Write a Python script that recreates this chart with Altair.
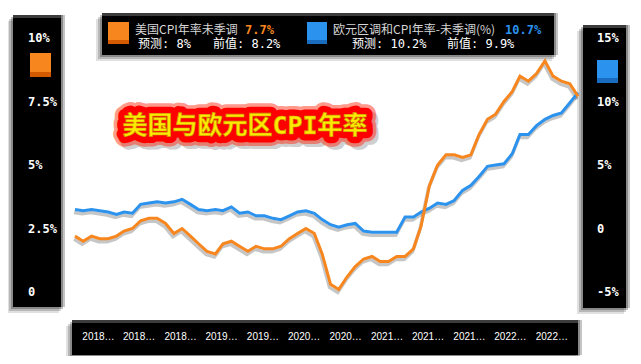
import altair as alt
import pandas as pd

# ---------------- data ----------------
months = pd.date_range("2017-09-01", periods=62, freq="MS").strftime("%Y-%m-%d").tolist()

us_cpi = [2.2, 2.0, 2.2, 2.1,
          2.1, 2.2, 2.4, 2.5, 2.8, 2.9, 2.9, 2.7, 2.3, 2.5, 2.2, 1.9,
          1.6, 1.5, 1.9, 2.0, 1.8, 1.6, 1.8, 1.7, 1.7, 1.8, 2.1, 2.3,
          2.5, 2.3, 1.5, 0.3, 0.1, 0.6, 1.0, 1.3, 1.4, 1.2, 1.2, 1.4,
          1.4, 1.7, 2.6, 4.2, 5.0, 5.4, 5.4, 5.3, 5.4, 6.2, 6.8, 7.0,
          7.5, 7.9, 8.5, 8.3, 8.6, 9.1, 8.5, 8.3, 8.2, 7.7]

ez_hicp = [1.5, 1.4, 1.5, 1.4,
           1.3, 1.1, 1.3, 1.2, 1.9, 2.0, 2.1, 2.0, 2.1, 2.3, 1.9, 1.5,
           1.4, 1.5, 1.4, 1.7, 1.2, 1.3, 1.0, 1.0, 0.8, 0.7, 1.0, 1.3,
           1.4, 1.2, 0.7, 0.3, 0.1, 0.3, 0.4, -0.2, -0.3, -0.3, -0.3, -0.3,
           0.9, 0.9, 1.3, 1.6, 2.0, 1.9, 2.2, 3.0, 3.4, 4.1, 4.9, 5.0,
           5.1, 5.9, 7.4, 7.4, 8.1, 8.6, 8.9, 9.1, 9.9, 10.7]

title_text = "美国与欧元区CPI年率"
us_name = "美国CPI年率未季调"
us_latest = "7.7%"
us_forecast = "预测: 8%"
us_previous = "前值: 8.2%"
ez_name = "欧元区调和CPI年率-未季调(%)"
ez_latest = "10.7%"
ez_forecast = "预测: 10.2%"
ez_previous = "前值: 9.9%"

left_ticks = [0, 2.5, 5, 7.5, 10]
left_tick_labels = ["0", "2.5%", "5%", "7.5%", "10%"]
right_ticks = [-5, 0, 5, 10, 15]
right_tick_labels = ["-5%", "0", "5%", "10%", "15%"]
x_tick_months = ["2018-02-01", "2018-07-01", "2018-12-01", "2019-05-01", "2019-10-01",
                 "2020-03-01", "2020-08-01", "2021-01-01", "2021-06-01", "2021-11-01",
                 "2022-04-01", "2022-09-01"]
x_tick_labels = ["2018…", "2018…", "2018…", "2019…", "2019…", "2020…", "2020…",
                 "2021…", "2021…", "2021…", "2022…", "2022…"]

# ---------------- styling ----------------
ORANGE = "#f7861e"
ORANGE_D = "#d45a00"
BLUE = "#2b92ee"
BLUE_D = "#1a6cbf"
MONO = "DejaVu Sans Mono, Noto Sans CJK SC"
CJK = "Noto Sans CJK SC"

us_df = pd.DataFrame({"month": months, "value": us_cpi})
ez_df = pd.DataFrame({"month": months, "value": ez_hicp})
left_df = pd.DataFrame({"v": left_ticks, "label": left_tick_labels})
right_df = pd.DataFrame({"v": right_ticks, "label": right_tick_labels})
xt_df = pd.DataFrame({"month": x_tick_months, "label": x_tick_labels})
dummy = pd.DataFrame({"d": [0]})

X_DOM = [alt.DateTime(year=2017, month=9, date=1, utc=True),
         alt.DateTime(year=2022, month=10, date=1, utc=True)]


def xs(dx=0):
    return alt.Scale(type="utc", domain=X_DOM, range=[67 + dx, 570 + dx], nice=False)


def us_y(dy=0):
    return alt.Scale(domain=[0, 10], range=[284 + dy, 30 + dy], nice=False, zero=False)


def ez_y(dy=0):
    return alt.Scale(domain=[-5, 15], range=[284 + dy, 30 + dy], nice=False, zero=False)


def rect(x0, y0, x1, y1, color, opacity=1.0):
    return alt.Chart(dummy).mark_rect(color=color, opacity=opacity).encode(
        x=alt.value(x0), x2=alt.value(x1), y=alt.value(y0), y2=alt.value(y1))


def box(x0, y0, x1, y1):
    return [
        rect(x0 - 6, y0 + 6, x1 - 6, y1 + 6, "#000000", 0.12),
        rect(x0 - 4, y0 + 4, x1 - 4, y1 + 4, "#000000", 0.18),
        rect(x0 - 2, y0 + 2, x1 - 2, y1 + 2, "#000000", 0.25),
        rect(x0, y0, x1, y1, "#000000"),
        rect(x0, y0, x1, y0 + 3, "#3c3c3c"),
        rect(x1 - 4, y0, x1 - 2, y1, "#8a8a8a"),
        rect(x1 - 2, y0, x1, y1, "#c4c4c4"),
    ]


def label(txt, x, y, font, size, color, weight="normal", align="left"):
    return alt.Chart(dummy).mark_text(
        font=font, fontSize=size, fontWeight=weight, color=color,
        align=align, baseline="middle").encode(
        x=alt.value(x), y=alt.value(y), text=alt.value(txt))


layers = []
# boxes
layers += box(5, 7, 57, 299)       # left axis
layers += box(575, 17, 622, 300)   # right axis
layers += box(94, 5, 550, 47)      # legend
layers += box(64, 312, 574, 347)   # x axis

# line shadows (same data, scales shifted a few pixels)
for df, ysc in ((ez_df, ez_y(3)), (us_df, us_y(3))):
    layers.append(alt.Chart(df).mark_line(color="#333333", opacity=0.28, strokeWidth=3.5).encode(
        x=alt.X("month:T", scale=xs(-1), axis=None),
        y=alt.Y("value:Q", scale=ysc, axis=None)))

# lines
layers.append(alt.Chart(ez_df).mark_line(color=BLUE, strokeWidth=3).encode(
    x=alt.X("month:T", scale=xs(), axis=None),
    y=alt.Y("value:Q", scale=ez_y(), axis=None)))
layers.append(alt.Chart(us_df).mark_line(color=ORANGE, strokeWidth=3).encode(
    x=alt.X("month:T", scale=xs(), axis=None),
    y=alt.Y("value:Q", scale=us_y(), axis=None)))

# axis tick labels
layers.append(alt.Chart(left_df).mark_text(
    font=MONO, fontSize=12, fontWeight="bold", color="white", align="left", baseline="middle").encode(
    x=alt.value(20), y=alt.Y("v:Q", scale=us_y(), axis=None), text="label:N"))
layers.append(alt.Chart(right_df).mark_text(
    font=MONO, fontSize=12, fontWeight="bold", color="white", align="left", baseline="middle").encode(
    x=alt.value(589), y=alt.Y("v:Q", scale=ez_y(), axis=None), text="label:N"))
layers.append(alt.Chart(xt_df).mark_text(
    font="Liberation Sans", fontSize=10, color="white", align="center", baseline="middle", dx=-18).encode(
    x=alt.X("month:T", scale=xs(), axis=None), y=alt.value(329), text="label:N"))

# axis squares
layers += [rect(22, 45, 43, 69, ORANGE), rect(22, 64, 43, 69, ORANGE_D)]
layers += [rect(589, 52, 610, 75, BLUE), rect(589, 70, 610, 75, BLUE_D)]

# legend
layers += [rect(100, 14, 121, 36, ORANGE), rect(100, 32, 121, 36, ORANGE_D)]
layers += [rect(299, 14, 319, 36, BLUE), rect(299, 32, 319, 36, BLUE_D)]
layers.append(label(us_name, 127, 22, CJK, 12, "#d6d6d6"))
layers.append(label(us_latest, 237, 22, MONO, 12, ORANGE, "bold"))
layers.append(label(us_forecast, 130, 36, MONO, 12, "white"))
layers.append(label(us_previous, 205, 36, MONO, 12, "white"))
layers.append(label(ez_name, 325, 22, CJK, 12, "#d6d6d6"))
layers.append(label(ez_latest, 497, 22, MONO, 12, BLUE, "bold"))
layers.append(label(ez_forecast, 344, 36, MONO, 12, "white"))
layers.append(label(ez_previous, 439, 36, MONO, 12, "white"))

# title with red glow
TFONT = "DejaVu Sans Mono, Noto Sans CJK SC"
tx, ty = 237, 118
layers.append(alt.Chart(dummy).mark_text(
    font=TFONT, fontSize=25, fontWeight="bold", fill="#777777", stroke="#777777",
    strokeWidth=16, strokeJoin="round", opacity=0.35, align="center", baseline="middle",
    dx=4, dy=5).encode(x=alt.value(tx), y=alt.value(ty), text=alt.value(title_text)))
layers.append(alt.Chart(dummy).mark_text(
    font=TFONT, fontSize=25, fontWeight="bold", fill="#ff0000", stroke="#ff2000",
    strokeWidth=20, strokeJoin="round", opacity=0.45, align="center", baseline="middle").encode(
    x=alt.value(tx), y=alt.value(ty), text=alt.value(title_text)))
layers.append(alt.Chart(dummy).mark_text(
    font=TFONT, fontSize=25, fontWeight="bold", fill="#ff0000", stroke="#ff0000",
    strokeWidth=13, strokeJoin="round", align="center", baseline="middle").encode(
    x=alt.value(tx), y=alt.value(ty), text=alt.value(title_text)))
layers.append(alt.Chart(dummy).mark_text(
    font=TFONT, fontSize=25, fontWeight="bold", fill="#ffea00", stroke="#c89b00",
    strokeWidth=0.6, align="center", baseline="middle").encode(
    x=alt.value(tx), y=alt.value(ty), text=alt.value(title_text)))

chart = alt.layer(*layers).resolve_scale(x="independent", y="independent").properties(
    width=625, height=348, padding=0, background="white",
    autosize=alt.AutoSizeParams(type="none")
).configure_view(stroke=None)

chart.save("out.html", embed_options={"renderer": "svg", "actions": False})
